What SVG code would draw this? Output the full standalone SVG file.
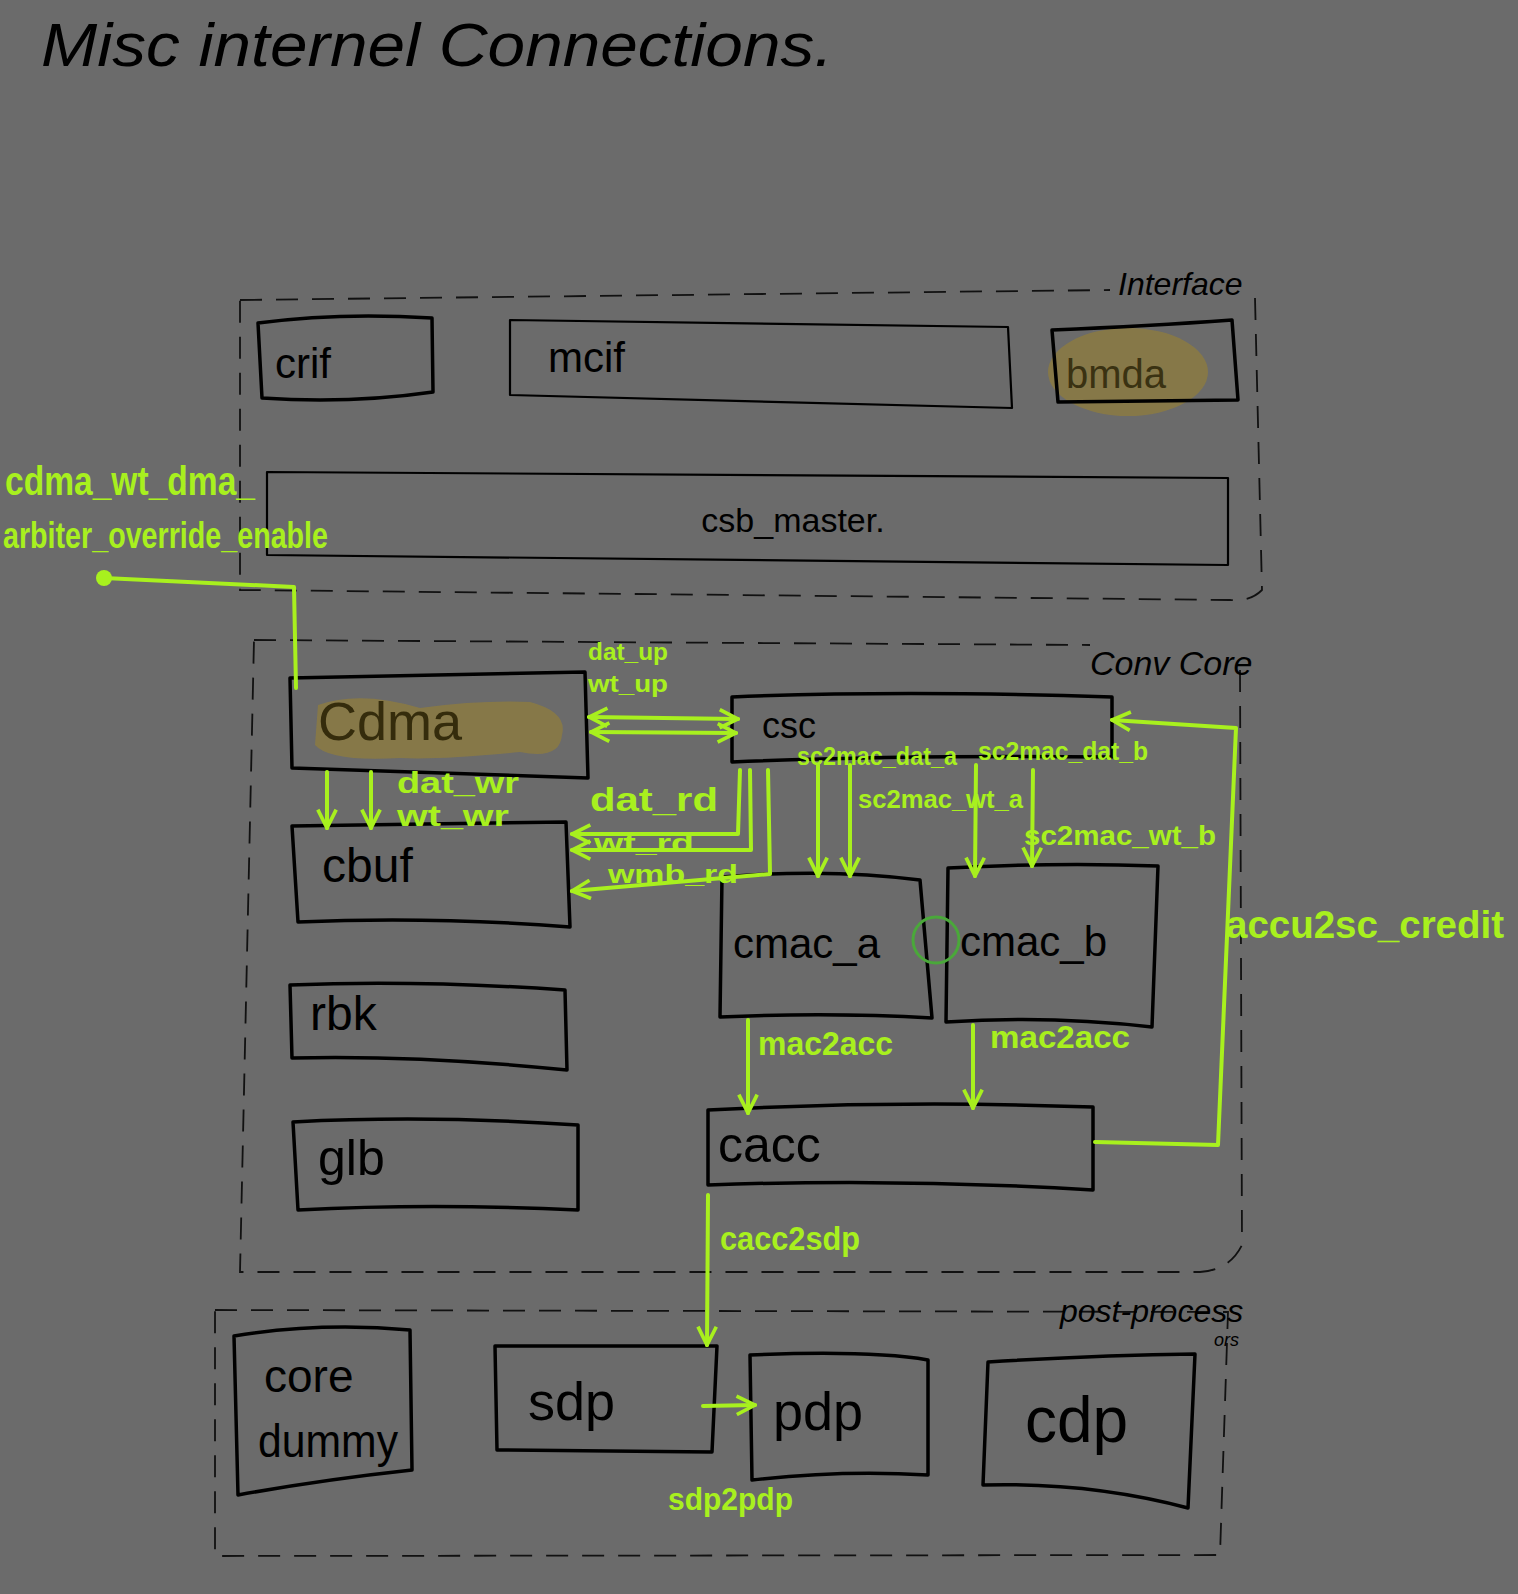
<svg xmlns="http://www.w3.org/2000/svg" width="1518" height="1594" viewBox="0 0 1518 1594">
<defs>
<style>
.bg{fill:#6b6b6b}
.box{fill:none;stroke:#000;stroke-width:3.5;stroke-linejoin:round;stroke-linecap:round}
.thin{fill:none;stroke:#000;stroke-width:2.2;stroke-linejoin:round}
.dash{fill:none;stroke:#111;stroke-width:1.8;stroke-dasharray:22 14}
.t{font-family:"Liberation Sans Narrow","Liberation Sans",sans-serif;fill:#000}
.h{font-family:"Liberation Sans Narrow","Liberation Sans",sans-serif;font-style:italic;fill:#000}
.g{font-family:"Liberation Sans Narrow","Liberation Sans",sans-serif;fill:#a8f01e;font-weight:bold}
.w{fill:none;stroke:#a8f01e;stroke-width:4;stroke-linecap:round;stroke-linejoin:round}
.blob{fill:#8a7a45;opacity:0.9}
</style>
<marker id="ah" viewBox="0 0 12 12" refX="11" refY="6" markerWidth="22" markerHeight="22" markerUnits="userSpaceOnUse" orient="auto-start-reverse">
<path d="M1,1 L11,6 L1,11" fill="none" stroke="#a8f01e" stroke-width="2"/>
</marker>
</defs>
<rect class="bg" x="0" y="0" width="1518" height="1594"/>
<text class="h" x="41" y="66" font-size="62" textLength="792" lengthAdjust="spacingAndGlyphs">Misc internel Connections.</text>

<g id="interface">
<path class="dash" d="M240,300 L1110,290 M1255,298 L1262,590 Q1250,602 1230,600 L240,590 L240,300"/>
<text class="h" x="1118" y="295" font-size="32">Interface</text>
</g>
<g id="crif">
<path class="box" d="M258,323 Q340,312 432,318 L433,392 Q350,404 262,398 Z"/>
<text class="t" x="275" y="378" font-size="42">crif</text>
</g>
<g id="mcif">
<path class="thin" d="M510,320 L1008,327 L1012,408 L510,395 Z"/>
<text class="t" x="548" y="372" font-size="42">mcif</text>
</g>
<g id="bmda">
<ellipse class="blob" cx="1128" cy="372" rx="80" ry="44"/>
<path class="box" d="M1052,330 Q1150,326 1232,320 L1238,400 L1058,402 Z"/>
<text class="t" x="1066" y="388" font-size="40" style="fill:#3a3212">bmda</text>
</g>
<g id="csb_master">
<path class="thin" d="M267,472 L1228,478 L1228,565 L267,555 Z"/>
<text class="t" x="793" y="532" font-size="34" text-anchor="middle">csb_master.</text>
</g>

<g id="conv_core">
<path class="dash" d="M254,640 L1090,645 M1240,670 L1242,1245 Q1230,1270 1200,1272 L240,1272 L254,640"/>
<text class="h" x="1090" y="675" font-size="34">Conv Core</text>
</g>
<g id="cdma">
<path class="blob" d="M318,705 Q360,690 420,708 Q480,700 530,702 Q568,712 562,735 Q560,760 520,752 Q440,760 400,758 Q330,762 315,745 Z"/>
<path class="box" d="M290,678 L585,672 L588,778 L292,768 Z"/>
<text class="t" x="318" y="740" font-size="54" style="fill:#352c0c">Cdma</text>
</g>
<g id="csc">
<path class="box" d="M732,697 Q900,690 1112,697 L1112,757 Q900,755 732,762 Z"/>
<text class="t" x="762" y="738" font-size="36">csc</text>
</g>
<g id="cbuf">
<path class="box" d="M292,826 L566,822 L570,927 Q430,916 298,922 Z"/>
<text class="t" x="322" y="882" font-size="48">cbuf</text>
</g>
<g id="rbk">
<path class="box" d="M290,985 Q420,980 565,990 L567,1070 Q420,1055 292,1058 Z"/>
<text class="t" x="310" y="1030" font-size="48">rbk</text>
</g>
<g id="glb">
<path class="box" d="M293,1122 Q430,1115 578,1125 L578,1210 Q430,1203 298,1210 Z"/>
<text class="t" x="318" y="1175" font-size="50">glb</text>
</g>
<g id="cmac_a">
<path class="box" d="M722,877 Q830,868 920,880 L932,1018 Q830,1012 720,1017 Z"/>
<text class="t" x="733" y="958" font-size="42">cmac_a</text>
</g>
<g id="cmac_b">
<path class="box" d="M948,868 Q1060,862 1158,866 L1152,1027 Q1050,1015 946,1022 Z"/>
<text class="t" x="960" y="956" font-size="42">cmac_b</text>
</g>
<circle cx="936" cy="940" r="23" fill="none" stroke="#4aa83a" stroke-width="3"/>
<g id="cacc">
<path class="box" d="M708,1110 Q900,1100 1093,1107 L1093,1190 Q900,1178 708,1185 Z"/>
<text class="t" x="718" y="1162" font-size="50">cacc</text>
</g>

<g id="post_processors">
<path class="dash" d="M215,1310 L1228,1312 L1220,1555 L215,1556 Z"/>
<text class="h" x="1060" y="1322" font-size="32">post-process</text>
<text class="h" x="1214" y="1346" font-size="18">ors</text>
</g>
<g id="core_dummy">
<path class="box" d="M234,1336 Q320,1322 410,1330 L412,1470 Q320,1480 238,1495 Z"/>
<text class="t" x="264" y="1392" font-size="46">core</text>
<text class="t" x="258" y="1457" font-size="46" textLength="140" lengthAdjust="spacingAndGlyphs">dummy</text>
</g>
<g id="sdp">
<path class="box" d="M495,1346 L717,1346 L712,1452 L497,1450 Z"/>
<text class="t" x="528" y="1420" font-size="54">sdp</text>
</g>
<g id="pdp">
<path class="box" d="M750,1355 Q870,1350 928,1360 L928,1475 Q840,1470 752,1480 Z"/>
<text class="t" x="773" y="1430" font-size="54">pdp</text>
</g>
<g id="cdp">
<path class="box" d="M988,1362 Q1100,1355 1195,1354 L1188,1508 Q1090,1482 983,1485 Z"/>
<text class="t" x="1025" y="1442" font-size="64">cdp</text>
</g>

<g id="connectors">
<circle cx="104" cy="578" r="8" fill="#a8f01e"/>
<path class="w" d="M104,578 L294,587 L296,688"/>
<path class="w" d="M589,717 L738,719" marker-start="url(#ah)" marker-end="url(#ah)"/>
<path class="w" d="M591,732 L736,733" marker-start="url(#ah)" marker-end="url(#ah)"/>
<path class="w" d="M327,772 L327,828" marker-end="url(#ah)"/>
<path class="w" d="M371,772 L371,828" marker-end="url(#ah)"/>
<path class="w" d="M740,770 L738,834 L572,834" marker-end="url(#ah)"/>
<path class="w" d="M750,770 L751,850 L572,850" marker-end="url(#ah)"/>
<path class="w" d="M768,770 L770,874 L572,891" marker-end="url(#ah)"/>
<path class="w" d="M818,765 L818,876" marker-end="url(#ah)"/>
<path class="w" d="M850,765 L850,876" marker-end="url(#ah)"/>
<path class="w" d="M976,765 L975,876" marker-end="url(#ah)"/>
<path class="w" d="M1033,770 L1032,866" marker-end="url(#ah)"/>
<path class="w" d="M748,1020 L748,1113" marker-end="url(#ah)"/>
<path class="w" d="M973,1025 L973,1108" marker-end="url(#ah)"/>
<path class="w" d="M1095,1142 L1218,1145 L1236,728 L1112,720" marker-end="url(#ah)"/>
<path class="w" d="M708,1195 L707,1345" marker-end="url(#ah)"/>
<path class="w" d="M703,1406 L755,1405" marker-end="url(#ah)"/>
</g>

<g id="labels">
<text class="g" x="5" y="495" font-size="40" textLength="250" lengthAdjust="spacingAndGlyphs">cdma_wt_dma_</text>
<text class="g" x="3" y="548" font-size="36" textLength="325" lengthAdjust="spacingAndGlyphs">arbiter_override_enable</text>
<text class="g" x="588" y="660" font-size="24" font-weight="normal" textLength="80" lengthAdjust="spacingAndGlyphs">dat_up</text>
<text class="g" x="588" y="692" font-size="24" font-weight="normal" textLength="80" lengthAdjust="spacingAndGlyphs">wt_up</text>
<text class="g" x="397" y="793" font-size="30" textLength="122" lengthAdjust="spacingAndGlyphs">dat_wr</text>
<text class="g" x="397" y="826" font-size="30" textLength="112" lengthAdjust="spacingAndGlyphs">wt_wr</text>
<text class="g" x="590" y="811" font-size="34" textLength="128" lengthAdjust="spacingAndGlyphs">dat_rd</text>
<text class="g" x="594" y="852" font-size="25" textLength="100" lengthAdjust="spacingAndGlyphs">wt_rd</text>
<text class="g" x="608" y="883" font-size="25" textLength="130" lengthAdjust="spacingAndGlyphs">wmb_rd</text>
<text class="g" x="797" y="765" font-size="26" textLength="160" lengthAdjust="spacingAndGlyphs">sc2mac_dat_a</text>
<text class="g" x="978" y="760" font-size="26" textLength="170" lengthAdjust="spacingAndGlyphs">sc2mac_dat_b</text>
<text class="g" x="858" y="808" font-size="26" textLength="165" lengthAdjust="spacingAndGlyphs">sc2mac_wt_a</text>
<text class="g" x="1024" y="845" font-size="28" textLength="192" lengthAdjust="spacingAndGlyphs">sc2mac_wt_b</text>
<text class="g" x="758" y="1055" font-size="34" textLength="135" lengthAdjust="spacingAndGlyphs">mac2acc</text>
<text class="g" x="990" y="1048" font-size="32" textLength="140" lengthAdjust="spacingAndGlyphs">mac2acc</text>
<text class="g" x="1226" y="938" font-size="38" textLength="278" lengthAdjust="spacingAndGlyphs">accu2sc_credit</text>
<text class="g" x="720" y="1250" font-size="34" textLength="140" lengthAdjust="spacingAndGlyphs">cacc2sdp</text>
<text class="g" x="668" y="1510" font-size="32" font-weight="normal" textLength="125" lengthAdjust="spacingAndGlyphs">sdp2pdp</text>
</g>
</svg>
